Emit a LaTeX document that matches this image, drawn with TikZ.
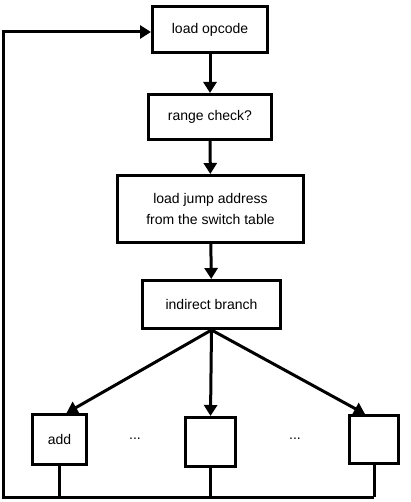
\documentclass[tikz,border=0pt]{standalone}
\usepackage{fontspec}
\setmainfont{Liberation Sans}
\usetikzlibrary{arrows.meta}

\begin{document}
\begin{tikzpicture}[x=1pt, y=-1pt, font=\fontsize{14}{21}\selectfont]
    % Styles
    \tikzstyle{op box}=[draw, line width=3pt, align=center, inner sep=0pt]
    \tikzstyle{flow}=[line width=3pt, -{Triangle[length=11pt,width=13pt]}]
    \tikzstyle{wire}=[line width=3pt]

    \useasboundingbox (0,0) rectangle (410,502);

    % --- Main chain ---
    \node[op box, minimum width=115pt, minimum height=46pt] (b_opcode) at (210,30) {load opcode};
    \node[op box, minimum width=123pt, minimum height=45pt] (b_range) at (210,117) {range check?};
    \node[op box, minimum width=186pt, minimum height=67pt] (b_jump) at (210.5,209) {load jump address\\from the switch table};
    \node[op box, minimum width=138pt, minimum height=48pt] (b_branch) at (211.5,304.5) {indirect branch};

    \draw[flow] (b_opcode) -- (b_range);
    \draw[flow] (b_range) -- (b_jump);
    \draw[flow] (b_jump) -- (b_branch);

    % --- Handlers ---
    \node[op box, minimum width=54pt, minimum height=50pt] (h_add) at (59.5,439.5) {add};
    \node[op box, minimum width=50pt, minimum height=49pt] (h_mid) at (210.5,442) {};
    \node[op box, minimum width=49pt, minimum height=48pt] (h_last) at (374,439.5) {};

    \node (dots_1) at (135,439) {...};
    \node (dots_2) at (295,439) {...};

    % Edges from the branch
    \draw[flow] (b_branch.south) -- ([xshift=7pt]h_add.north);
    \draw[flow] (b_branch.south) -- (h_mid.north);
    \draw[flow] (b_branch.south) -- ([xshift=-9pt]h_last.north);

    % --- Loop back ---
    \coordinate (bus_left) at (3,497);
    \coordinate (loop_top) at (3,32);

    \draw[wire] (h_add.south) -- (h_add.south |- bus_left);
    \draw[wire] (h_mid.south) -- (h_mid.south |- bus_left);
    \draw[wire] (h_last.south) -- (h_last.south |- bus_left);
    \draw[flow] (h_last.south |- bus_left) -- (bus_left) -- (loop_top) -- (b_opcode.west |- loop_top);

\end{tikzpicture}
\end{document}
